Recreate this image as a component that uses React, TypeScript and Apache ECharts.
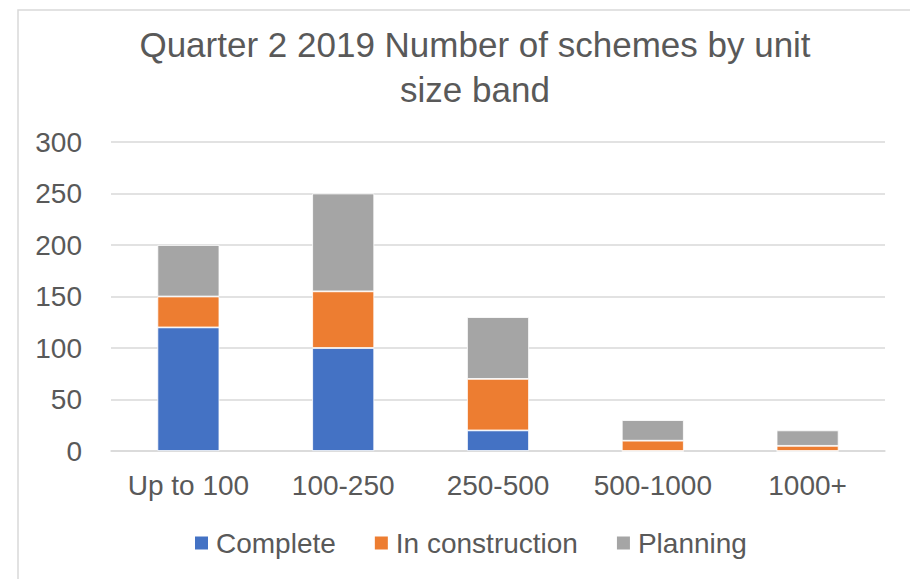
import React, { useEffect, useRef } from "react";
import * as echarts from "echarts";

const categories = ["Up to 100", "100-250", "250-500", "500-1000", "1000+"];
const complete = [120, 100, 20, 0, 0];
const inConstruction = [30, 55, 50, 10, 5];
const planning = [50, 95, 60, 20, 15];

const FONT = "'Liberation Sans', Arial, sans-serif";
const TXT = "#595959";

export default function App() {
  const ref = useRef<HTMLDivElement>(null);
  useEffect(() => {
    if (!ref.current) return;
    const chart = echarts.init(ref.current, null, { renderer: "svg" });
    const barStyle = (color: string) => ({ color, borderColor: "#ffffff", borderWidth: 0.8 });
    chart.setOption({
      animation: false,
      backgroundColor: "#ffffff",
      title: {
        text: "Quarter 2 2019 Number of schemes by unit\nsize band",
        left: 470,
        textAlign: "center",
        top: 17,
        textStyle: { fontFamily: FONT, fontSize: 35, fontWeight: "normal", color: TXT, lineHeight: 45 },
      },
      graphic: [
        {
          type: "rect",
          shape: { x: 18, y: 10, width: 1000, height: 1000 },
          style: { fill: "none", stroke: "#d9d9d9", lineWidth: 1.5 },
          silent: true,
        },
      ],
      legend: {
        left: 188,
        top: 524,
        itemWidth: 15,
        itemHeight: 15,
        itemGap: 37,
        icon: "rect",
        textStyle: { fontFamily: FONT, fontSize: 28, color: TXT, padding: [0, 0, 0, 2] },
        data: ["Complete", "In construction", "Planning"],
      },
      grid: { left: 111, right: 25, top: 142, bottom: 128, containLabel: false },
      xAxis: {
        type: "category",
        data: categories,
        axisLine: { lineStyle: { color: "#d9d9d9", width: 1.5 } },
        axisTick: { show: false },
        axisLabel: { fontFamily: FONT, fontSize: 28, color: TXT, margin: 20, interval: 0, hideOverlap: false },
      },
      yAxis: {
        type: "value",
        min: 0,
        max: 300,
        interval: 50,
        axisLine: { show: false },
        axisTick: { show: false },
        splitLine: { lineStyle: { color: "#d9d9d9", width: 1.5 } },
        axisLabel: { fontFamily: FONT, fontSize: 28, color: TXT, margin: 29 },
      },
      series: [
        { name: "Complete", type: "bar", stack: "s", data: complete, barWidth: 62, itemStyle: barStyle("#4472C4") },
        { name: "In construction", type: "bar", stack: "s", data: inConstruction, barWidth: 62, itemStyle: barStyle("#ED7D31") },
        { name: "Planning", type: "bar", stack: "s", data: planning, barWidth: 62, itemStyle: barStyle("#A5A5A5") },
      ],
    });
    return () => chart.dispose();
  }, []);
  return <div ref={ref} style={{ position: "fixed", left: 0, top: 0, width: 910, height: 579 }} />;
}
